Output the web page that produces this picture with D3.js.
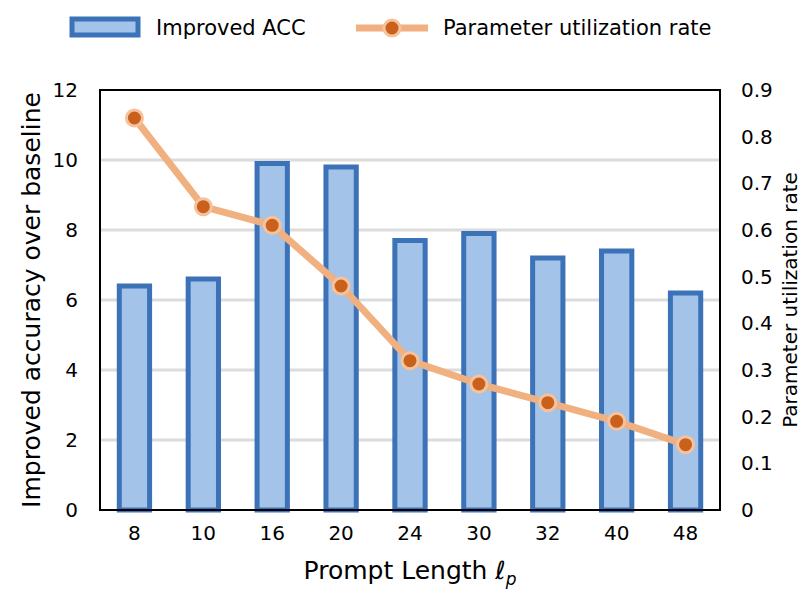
<!DOCTYPE html>
<html><head><meta charset="utf-8">
<script src="https://cdn.jsdelivr.net/npm/d3@7"></script>
<style>body{margin:0;background:#fff}text{font-family:"DejaVu Sans",sans-serif}</style>
</head><body><svg id="chart" width="800" height="600"></svg>
<script>
const categories = ["8","10","16","20","24","30","32","40","48"];
const improvedAcc = [6.4, 6.6, 9.9, 9.8, 7.7, 7.9, 7.2, 7.4, 6.2];
const utilization = [0.84, 0.65, 0.61, 0.48, 0.32, 0.27, 0.23, 0.19, 0.14];
const leftTicks = [0, 2, 4, 6, 8, 10, 12];
const rightTicks = [0, 0.1, 0.2, 0.3, 0.4, 0.5, 0.6, 0.7, 0.8, 0.9];

const svg = d3.select("#chart");
const m = {left: 100, right: 720, top: 90, bottom: 510};
const x = d3.scaleBand().domain(categories).range([m.left + 0, m.right]).paddingInner(0.56).paddingOuter(0.28);
const yL = d3.scaleLinear().domain([0, 12]).range([m.bottom, m.top]);
const yR = d3.scaleLinear().domain([0, 0.9]).range([m.bottom, m.top]);

// grid
svg.append("g").selectAll("line").data(leftTicks.slice(1, -1)).join("line")
  .attr("x1", m.left).attr("x2", m.right).attr("y1", d => yL(d)).attr("y2", d => yL(d))
  .attr("stroke", "#dcdcdc").attr("stroke-width", 3);

// bars
svg.append("g").selectAll("rect").data(improvedAcc).join("rect")
  .attr("x", (d, i) => x(categories[i])).attr("width", x.bandwidth())
  .attr("y", d => yL(d)).attr("height", d => yL(0) - yL(d))
  .attr("fill", "#a3c3e8").attr("stroke", "#3b72b8").attr("stroke-width", 5);

// line
const cx = (d, i) => x(categories[i]) + x.bandwidth() / 2;
svg.append("path").datum(utilization)
  .attr("d", d3.line().x(cx).y(d => yR(d)))
  .attr("fill", "none").attr("stroke", "#f1b07f").attr("stroke-width", 7).attr("stroke-linejoin", "round");
svg.append("g").selectAll("circle").data(utilization).join("circle")
  .attr("cx", cx).attr("cy", d => yR(d)).attr("r", 8)
  .attr("fill", "#c9601c").attr("stroke", "#f5c29c").attr("stroke-width", 3);

// frame
svg.append("rect").attr("x", m.left).attr("y", m.top).attr("width", m.right - m.left).attr("height", m.bottom - m.top)
  .attr("fill", "none").attr("stroke", "#000").attr("stroke-width", 2);

// axes
const axL = svg.append("g").attr("transform", `translate(${m.left},0)`)
  .call(d3.axisLeft(yL).tickValues(leftTicks).tickSize(0).tickPadding(22));
const axR = svg.append("g").attr("transform", `translate(${m.right},0)`)
  .call(d3.axisRight(yR).tickValues(rightTicks).tickFormat(d => d === 0 ? "0" : d3.format(".1f")(d)).tickSize(0).tickPadding(21));
const axB = svg.append("g").attr("transform", `translate(0,${m.bottom})`)
  .call(d3.axisBottom(x).tickSize(0).tickPadding(16));
[axL, axR, axB].forEach(a => { a.select(".domain").remove(); a.selectAll("text").attr("font-size", 20).attr("fill", "#000"); });

// titles
svg.append("text").attr("transform", `translate(40,${(m.top + m.bottom) / 2}) rotate(-90)`)
  .attr("text-anchor", "middle").attr("font-size", 25).text("Improved accuracy over baseline");
svg.append("text").attr("transform", `translate(797,${(m.top + m.bottom) / 2}) rotate(-90)`)
  .attr("text-anchor", "middle").attr("font-size", 20).text("Parameter utilization rate");
const xt = svg.append("text").attr("x", 410).attr("y", 579).attr("text-anchor", "middle").attr("font-size", 25);
xt.append("tspan").text("Prompt Length ");
xt.append("tspan").attr("font-style", "italic").text("ℓ");
xt.append("tspan").attr("font-style", "italic").attr("font-size", 17).attr("dy", 6).text("p");

// legend
const lg = svg.append("g");
lg.append("rect").attr("x", 72).attr("y", 19).attr("width", 66).attr("height", 16)
  .attr("fill", "#a3c3e8").attr("stroke", "#3b72b8").attr("stroke-width", 5);
lg.append("text").attr("x", 156).attr("y", 35).attr("font-size", 21).text("Improved ACC");
lg.append("line").attr("x1", 356).attr("x2", 428).attr("y1", 28).attr("y2", 28).attr("stroke", "#f1b07f").attr("stroke-width", 7);
lg.append("circle").attr("cx", 392).attr("cy", 28).attr("r", 8).attr("fill", "#c9601c").attr("stroke", "#f5c29c").attr("stroke-width", 3);
lg.append("text").attr("x", 443).attr("y", 35).attr("font-size", 21).text("Parameter utilization rate");
</script></body></html>
